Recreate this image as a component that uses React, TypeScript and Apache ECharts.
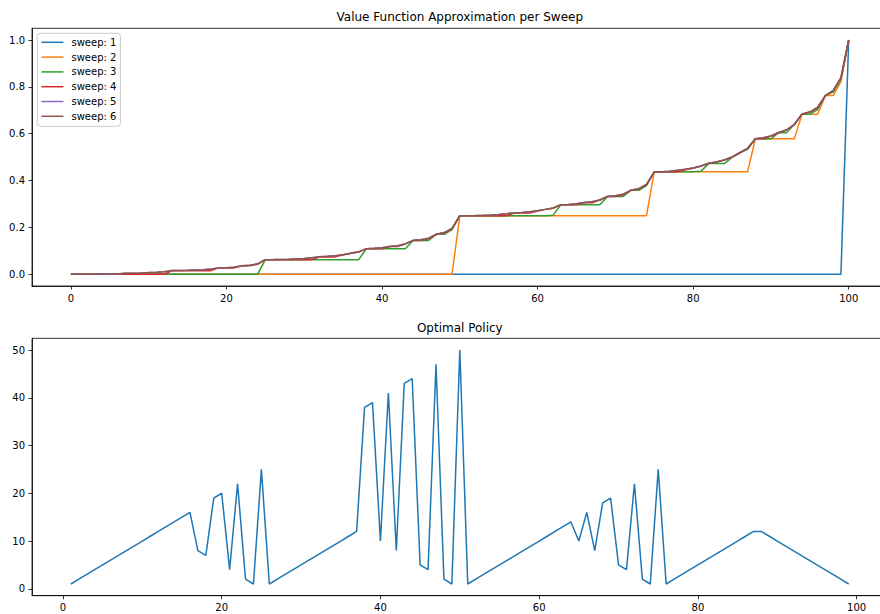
import React, { useEffect, useRef } from "react";
import * as echarts from "echarts";

// ---- data ----
const sweepNames = ["sweep: 1", "sweep: 2", "sweep: 3", "sweep: 4", "sweep: 5", "sweep: 6"];
const sweepColors = ["#1f77b4", "#ff7f0e", "#2ca02c", "#d62728", "#9467bd", "#8c564b"];

const sweep1 = [
  0, 0, 0, 0, 0, 0, 0, 0, 0, 0, 0, 0, 0, 0, 0, 0, 0, 0, 0, 0,
  0, 0, 0, 0, 0, 0, 0, 0, 0, 0, 0, 0, 0, 0, 0, 0, 0, 0, 0, 0,
  0, 0, 0, 0, 0, 0, 0, 0, 0, 0, 0, 0, 0, 0, 0, 0, 0, 0, 0, 0,
  0, 0, 0, 0, 0, 0, 0, 0, 0, 0, 0, 0, 0, 0, 0, 0, 0, 0, 0, 0,
  0, 0, 0, 0, 0, 0, 0, 0, 0, 0, 0, 0, 0, 0, 0, 0, 0, 0, 0, 0,
  1,
];

const sweep2 = [
  0, 0, 0, 0, 0, 0, 0, 0, 0, 0, 0, 0, 0, 0, 0, 0, 0, 0, 0, 0,
  0, 0, 0, 0, 0, 0, 0, 0, 0, 0, 0, 0, 0, 0, 0, 0, 0, 0, 0, 0,
  0, 0, 0, 0, 0, 0, 0, 0, 0, 0,
  0.25, 0.25, 0.25, 0.25, 0.25, 0.25, 0.25, 0.25, 0.25, 0.25,
  0.25, 0.25, 0.25, 0.25, 0.25, 0.25, 0.25, 0.25, 0.25, 0.25,
  0.25, 0.25, 0.25, 0.25, 0.25,
  0.4375, 0.4375, 0.4375, 0.4375, 0.4375, 0.4375, 0.4375, 0.4375, 0.4375, 0.4375,
  0.4375, 0.4375, 0.4375,
  0.5781, 0.5781, 0.5781, 0.5781, 0.5781, 0.5781,
  0.6836, 0.6836, 0.6836,
  0.7627, 0.7627,
  0.822,
  1,
];

const sweep3 = [
  0, 0, 0, 0, 0, 0, 0, 0, 0, 0, 0, 0, 0, 0, 0, 0, 0, 0, 0, 0,
  0, 0, 0, 0, 0,
  0.0625, 0.0625, 0.0625, 0.0625, 0.0625, 0.0625, 0.0625, 0.0625, 0.0625, 0.0625,
  0.0625, 0.0625, 0.0625,
  0.1094, 0.1094, 0.1094, 0.1094, 0.1094, 0.1094,
  0.1445, 0.1445, 0.1445,
  0.1709, 0.1709,
  0.1908,
  0.25, 0.25, 0.25, 0.25, 0.25, 0.25, 0.25, 0.25, 0.25, 0.25, 0.25, 0.25,
  0.2525,
  0.2969, 0.2969, 0.2969, 0.2969, 0.2969, 0.2969,
  0.332, 0.332, 0.332,
  0.3584, 0.3584,
  0.3782,
  0.4375, 0.4375, 0.4375, 0.4375, 0.4375, 0.4375,
  0.4394,
  0.4727, 0.4727, 0.4727,
  0.499, 0.5188, 0.5336,
  0.5781, 0.5781, 0.5781,
  0.6045, 0.6045,
  0.6391,
  0.6836, 0.6836,
  0.7034, 0.7627, 0.7776, 0.8332,
  1,
];

const sweep4 = [
  0, 0, 0, 0, 0, 0, 0, 0, 0, 0, 0, 0, 0,
  0.0156, 0.0156, 0.0156, 0.0156, 0.0156, 0.0156,
  0.0273, 0.0273, 0.0273,
  0.0361, 0.0361,
  0.0428,
  0.0625, 0.0625, 0.0625, 0.0625, 0.0625, 0.0625, 0.0631,
  0.0743, 0.0743, 0.0743,
  0.083, 0.0896, 0.0946,
  0.1094, 0.1094, 0.1094,
  0.1183, 0.1183,
  0.1297,
  0.1445, 0.1445,
  0.1513, 0.1709, 0.176, 0.1945,
  0.25, 0.25, 0.25, 0.25, 0.25, 0.25, 0.25,
  0.2617, 0.2617, 0.2617,
  0.2705, 0.2771, 0.2821,
  0.2969, 0.2969, 0.2969,
  0.3057, 0.3057,
  0.3172,
  0.332, 0.332,
  0.3387, 0.3584, 0.3635, 0.382,
  0.4375, 0.4375, 0.4375, 0.4375,
  0.4463, 0.4529, 0.4616, 0.4727, 0.4793, 0.4879, 0.499, 0.5188, 0.5365,
  0.5781, 0.5781,
  0.5897, 0.6045, 0.6159, 0.6391, 0.6836, 0.6923, 0.7119, 0.7627, 0.784, 0.838,
  1,
];

const sweep5 = [
  0, 0, 0, 0, 0, 0, 0, 0.004, 0.0047, 0.0056,
  0.0071, 0.009, 0.0111, 0.0157, 0.0161, 0.017, 0.0187, 0.0198, 0.0224, 0.0274,
  0.0283, 0.0305, 0.0362, 0.0385, 0.0445, 0.0625, 0.0627, 0.0634, 0.0646, 0.066,
  0.0678, 0.0708, 0.0746, 0.0765, 0.0793, 0.0838, 0.0896, 0.0959, 0.1095, 0.1109,
  0.1134, 0.1185, 0.122, 0.1297, 0.1447, 0.1475, 0.154, 0.171, 0.178, 0.196,
  0.25, 0.2502, 0.2509, 0.2521, 0.2535, 0.2553, 0.2583, 0.2621, 0.264, 0.2668,
  0.2713, 0.2771, 0.2834, 0.297, 0.2984, 0.3009, 0.306, 0.3095, 0.3172, 0.3322,
  0.335, 0.3415, 0.3585, 0.3655, 0.3835, 0.4375, 0.4382, 0.4401, 0.4438, 0.448,
  0.4534, 0.4625, 0.4738, 0.4795, 0.4879, 0.5013, 0.5189, 0.5376, 0.5786, 0.5828,
  0.5901, 0.6054, 0.6159, 0.6392, 0.684, 0.6926, 0.712, 0.763, 0.784, 0.838,
  1,
];

const sweep6 = [
  0, 0.0001, 0.0003, 0.0007, 0.0012, 0.0018, 0.0028, 0.004, 0.0047, 0.0056,
  0.0071, 0.009, 0.0111, 0.0157, 0.0161, 0.017, 0.0187, 0.0198, 0.0224, 0.0274,
  0.0283, 0.0305, 0.0362, 0.0385, 0.0445, 0.0625, 0.0627, 0.0634, 0.0646, 0.066,
  0.0678, 0.0708, 0.0746, 0.0765, 0.0793, 0.0838, 0.0896, 0.0959, 0.1095, 0.1109,
  0.1134, 0.1185, 0.122, 0.1297, 0.1447, 0.1475, 0.154, 0.171, 0.178, 0.196,
  0.25, 0.2502, 0.2509, 0.2521, 0.2535, 0.2553, 0.2583, 0.2621, 0.264, 0.2668,
  0.2713, 0.2771, 0.2834, 0.297, 0.2984, 0.3009, 0.306, 0.3095, 0.3172, 0.3322,
  0.335, 0.3415, 0.3585, 0.3655, 0.3835, 0.4375, 0.4382, 0.4401, 0.4438, 0.448,
  0.4534, 0.4625, 0.4738, 0.4795, 0.4879, 0.5013, 0.5189, 0.5376, 0.5786, 0.5828,
  0.5901, 0.6054, 0.6159, 0.6392, 0.684, 0.6926, 0.712, 0.763, 0.784, 0.838,
  1,
];

const policyStart = 1;
const policy = [
  1, 2, 3, 4, 5, 6, 7, 8, 9, 10, 11, 12, 13, 14, 15, 16,
  8, 7, 19, 20, 4, 22, 2, 1, 25,
  1, 2, 3, 4, 5, 6, 7, 8, 9, 10, 11, 12,
  38, 39, 10, 41, 8, 43, 44, 5, 4, 47, 2, 1, 50,
  1, 2, 3, 4, 5, 6, 7, 8, 9, 10, 11, 12, 13, 14,
  10, 16, 8, 18, 19, 5, 4, 22, 2, 1, 25,
  1, 2, 3, 4, 5, 6, 7, 8, 9, 10, 11, 12,
  12,
  11, 10, 9, 8, 7, 6, 5, 4, 3, 2, 1,
];

const xTicks = [0, 20, 40, 60, 80, 100];
const valueTicks = [0, 0.2, 0.4, 0.6, 0.8, 1.0];
const policyTicks = [0, 10, 20, 30, 40, 50];

const sweeps = [sweep1, sweep2, sweep3, sweep4, sweep5, sweep6];

const FONT = "DejaVu Sans";
const BLACK = "#000000";

function axisCommon(ticks: number[], fmt?: (v: number) => string) {
  return {
    splitLine: { show: false },
    axisLine: { show: true, onZero: false, lineStyle: { color: BLACK, width: 0.8 } },
    axisTick: {
      show: true,
      inside: false,
      length: 3.5,
      customValues: ticks,
      lineStyle: { color: BLACK, width: 0.8 },
    },
    axisLabel: {
      customValues: ticks,
      fontFamily: FONT,
      fontSize: 10,
      color: BLACK,
      margin: 7,
      formatter: fmt ? (v: number) => fmt(v) : (v: number) => String(v),
    },
  };
}

export default function App() {
  const ref = useRef<HTMLDivElement>(null);
  useEffect(() => {
    if (!ref.current) return;
    const chart = echarts.init(ref.current, null, { renderer: "svg" });
    const gridW = 855.6;
    const series: any[] = sweeps.map((arr, k) => ({
      name: sweepNames[k],
      type: "line",
      xAxisIndex: 0,
      yAxisIndex: 0,
      symbol: "none",
      showSymbol: false,
      color: sweepColors[k],
      lineStyle: { width: 1.5, color: sweepColors[k] },
      data: arr.map((v, i) => [i, v]),
      z: 2 + k,
    }));
    series.push({
      name: "policy",
      type: "line",
      xAxisIndex: 1,
      yAxisIndex: 1,
      symbol: "none",
      showSymbol: false,
      color: sweepColors[0],
      lineStyle: { width: 1.5, color: sweepColors[0] },
      data: policy.map((v, i) => [i + policyStart, v]),
    });
    chart.setOption({
      animation: false,
      backgroundColor: "#ffffff",
      title: [
        {
          text: "Value Function Approximation per Sweep",
          left: 459.8,
          top: 11,
          textAlign: "center",
          padding: 0,
          textStyle: { fontFamily: FONT, fontSize: 12, fontWeight: "normal", color: BLACK },
        },
        {
          text: "Optimal Policy",
          left: 459.8,
          top: 321.5,
          textAlign: "center",
          padding: 0,
          textStyle: { fontFamily: FONT, fontSize: 12, fontWeight: "normal", color: BLACK },
        },
      ],
      legend: {
        data: sweepNames,
        orient: "vertical",
        left: 37.3,
        top: 33.3,
        padding: [4, 4, 5, 3.4],
        itemWidth: 22,
        itemHeight: 10,
        itemGap: 4.8,
        itemStyle: { opacity: 0 },
        lineStyle: { width: 1.5 },
        backgroundColor: "rgba(255,255,255,0.8)",
        borderColor: "#cccccc",
        borderWidth: 1,
        borderRadius: 3,
        textStyle: { fontFamily: FONT, fontSize: 10, color: BLACK, lineHeight: 10, padding: [0, 0, 0, 3] },
      },
      grid: [
        {
          left: 32,
          top: 28.3,
          width: gridW,
          height: 257.7,
          show: true,
          borderColor: BLACK,
          borderWidth: 0.8,
          containLabel: false,
          outerBoundsMode: "none",
        },
        {
          left: 32,
          top: 338.3,
          width: gridW,
          height: 257.4,
          show: true,
          borderColor: BLACK,
          borderWidth: 0.8,
          containLabel: false,
          outerBoundsMode: "none",
        },
      ],
      xAxis: [
        { type: "value", gridIndex: 0, min: -5, max: 105, ...axisCommon(xTicks) },
        { type: "value", gridIndex: 1, min: -3.9, max: 103.9, ...axisCommon(xTicks) },
      ],
      yAxis: [
        {
          type: "value",
          gridIndex: 0,
          min: -0.05,
          max: 1.05,
          ...axisCommon(valueTicks, (v) => v.toFixed(1)),
        },
        { type: "value", gridIndex: 1, min: -1.45, max: 52.45, ...axisCommon(policyTicks) },
      ],
      series,
    });
    return () => chart.dispose();
  }, []);
  return (
    <div
      ref={ref}
      style={{ position: "fixed", left: 0, top: 0, width: 880, height: 614, background: "#fff" }}
    />
  );
}
